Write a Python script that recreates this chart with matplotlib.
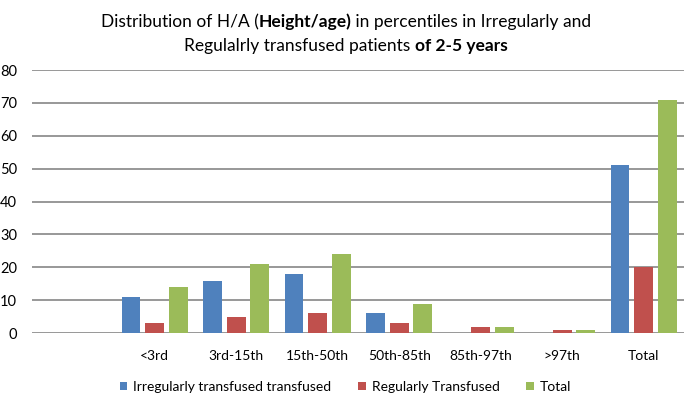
import matplotlib.pyplot as plt
import numpy as np

categories = ["", "<3rd", "3rd-15th", "15th-50th", "50th-85th", "85th-97th", ">97th", "Total"]
irregular = [0, 11, 16, 18, 6, 0, 0, 51]
regular = [0, 3, 5, 6, 3, 2, 1, 20]
total = [0, 14, 21, 24, 9, 2, 1, 71]
series_names = ["Irregularly transfused transfused", "Regularly Transfused", "Total"]
colors = ["#4F81BD", "#C0504D", "#9BBB59"]

plt.rcParams["font.family"] = ["Lato", "DejaVu Sans"]

fig = plt.figure(figsize=(6.9, 3.98), dpi=100)
ax = fig.add_axes([0.047, 0.163, 0.945, 0.661])

x = np.arange(len(categories))
w = 0.23
step = 0.29
for i, (vals, name, c) in enumerate(zip([irregular, regular, total], series_names, colors)):
    ax.bar(x + (i - 1) * step, vals, width=w, color=c, label=name, zorder=3)

ax.set_xlim(-0.5, len(categories) - 0.5)
ax.set_ylim(0, 80)
ax.set_yticks(range(0, 81, 10))
ax.yaxis.grid(True, color="#868686", linewidth=1.2, zorder=0)
ax.set_axisbelow(True)
for s in ax.spines.values():
    s.set_visible(False)
ax.tick_params(axis="both", length=0, labelsize=10.5, colors="#000000")
ax.tick_params(axis="x", pad=12, labelsize=10)
ax.tick_params(axis="y", pad=11)
ax.set_xticks(x)
ax.set_xticklabels(categories)

ax.legend(loc="center", bbox_to_anchor=(0.48, -0.205), ncol=3, frameon=False,
          fontsize=10, handlelength=0.55, handleheight=0.55, columnspacing=1.9,
          handletextpad=0.45)

# title with bold parts, drawn piece by piece
renderer = fig.canvas.get_renderer()
lines = [
    [("Distribution of H/A (", "normal"), ("Height/age)", "bold"),
     (" in percentiles in Irregularly and", "normal")],
    [("Regulalrly transfused patients ", "normal"), ("of 2-5 years", "bold")],
]
ys = [0.945, 0.885]
for parts, y in zip(lines, ys):
    texts = []
    for s, wgt in parts:
        t = fig.text(0, y, s, fontsize=12.5, fontweight=wgt, va="center", ha="left")
        texts.append(t)
    widths = [t.get_window_extent(renderer).width for t in texts]
    tot = sum(widths)
    cx = 0.5 * fig.bbox.width + 1
    start = cx - tot / 2
    for t, wd in zip(texts, widths):
        t.set_x(start / fig.bbox.width)
        start += wd

fig.savefig("out.png", dpi=100)
